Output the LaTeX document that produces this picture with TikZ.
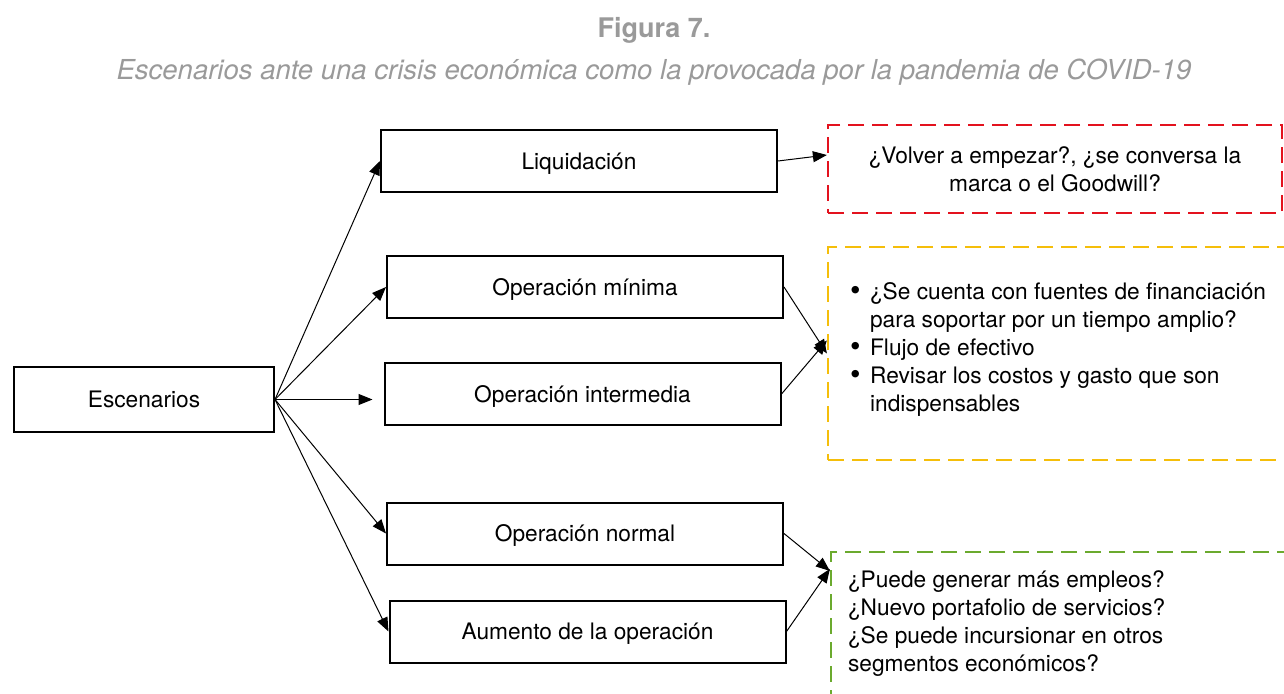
\documentclass[tikz,border=0pt]{standalone}
\usepackage{fontspec}
\setmainfont{TeX Gyre Heros}
\usetikzlibrary{arrows.meta}
\definecolor{figgray}{HTML}{9A9A9A}
\definecolor{redline}{HTML}{E3121E}
\definecolor{yellowline}{HTML}{F5BE0A}
\definecolor{greenline}{HTML}{6BAA2E}
\newcommand{\bul}{\makebox[20pt][l]{\raisebox{-1pt}{\fontsize{30}{28}\selectfont\textbullet}}}

\begin{document}
\begin{tikzpicture}[x=1pt,y=-1pt,
  font=\fontsize{22.7}{28}\selectfont,
  box/.style={draw,line width=2pt,minimum width=396pt,minimum height=62pt,inner sep=0pt,text height=17pt,text depth=1pt},
  dashbox/.style={draw,line width=2.2pt,dash pattern=on 16pt off 8pt,inner sep=0pt},
  link/.style={line width=1pt,-{Triangle[length=14pt,width=11pt]}}]
\useasboundingbox (0,0) rectangle (1284,693);
\clip (0,0) rectangle (1284,693);
%\draw[step=50,gray,very thin] (0,0) grid (1284,693); %background grid
\node[font=\fontsize{27}{32}\selectfont\bfseries,text=figgray] (title) at (654,30) {Figura 7.};
\node[font=\fontsize{27.5}{32}\selectfont\itshape,text=figgray] (subtitle) at (654,72) {Escenarios ante una crisis económica como la provocada por la pandemia de COVID-19};
\node[box,minimum width=260pt,minimum height=65pt] (esc) at (144,399.5) {Escenarios}; %root
\node[box] (liq)   at (579,161)   {Liquidación};
\node[box] (min)   at (585,287)   {Operación mínima};
\node[box] (inter) at (582.5,394) {Operación intermedia};
\node[box] (norm)  at (585,533.5) {Operación normal};
\node[box] (aum)   at (587.5,631.5) {Aumento de la operación};
\node[dashbox,draw=redline,minimum width=454pt,minimum height=88pt,align=center] (red) at (1055,169) {¿Volver a empezar?, ¿se conversa la\\marca o el Goodwill?}; %red
\node[dashbox,draw=yellowline,minimum width=462pt,minimum height=213pt] (yel) at (1059,353.5) {}; %yellow
\node[anchor=north west,inner sep=0pt,align=left] (yeltxt) at ([xshift=23pt,yshift=-36pt]yel.north west)
  {\bul¿Se cuenta con fuentes de financiación\\
   \hspace*{20pt}para soportar por un tiempo amplio?\\
   \bul Flujo de efectivo\\
   \bul Revisar los costos y gasto que son\\
   \hspace*{20pt}indispensables};
\node[dashbox,draw=greenline,minimum width=459pt,minimum height=168pt] (grn) at (1060.5,636) {}; %green
\node[anchor=north west,inner sep=0pt,align=left] (grntxt) at ([xshift=18pt,yshift=-20pt]grn.north west)
  {¿Puede generar más empleos?\\
   ¿Nuevo portafolio de servicios?\\
   ¿Se puede incursionar en otros\\
   segmentos económicos?};
\draw[link] (esc.east) -- (liq.west);
\draw[link] (esc.east) -- (min.west);
\draw[link,shorten >=11pt] (esc.east) -- (esc.east -| inter.west);
\draw[link] (esc.east) -- (norm.west);
\draw[link] (esc.east) -- (aum.west);
\draw[link] (liq.east) -- ([yshift=14pt]red.west);
\draw[link] (min.east) -- (yel.west);
\draw[link] (inter.east) -- ([yshift=13pt]yel.west);
\draw[link] (norm.east) -- ([yshift=-20pt]grn.north west);
\draw[link] (aum.east) -- ([yshift=-18pt]grn.north west);
\end{tikzpicture}
\end{document}
